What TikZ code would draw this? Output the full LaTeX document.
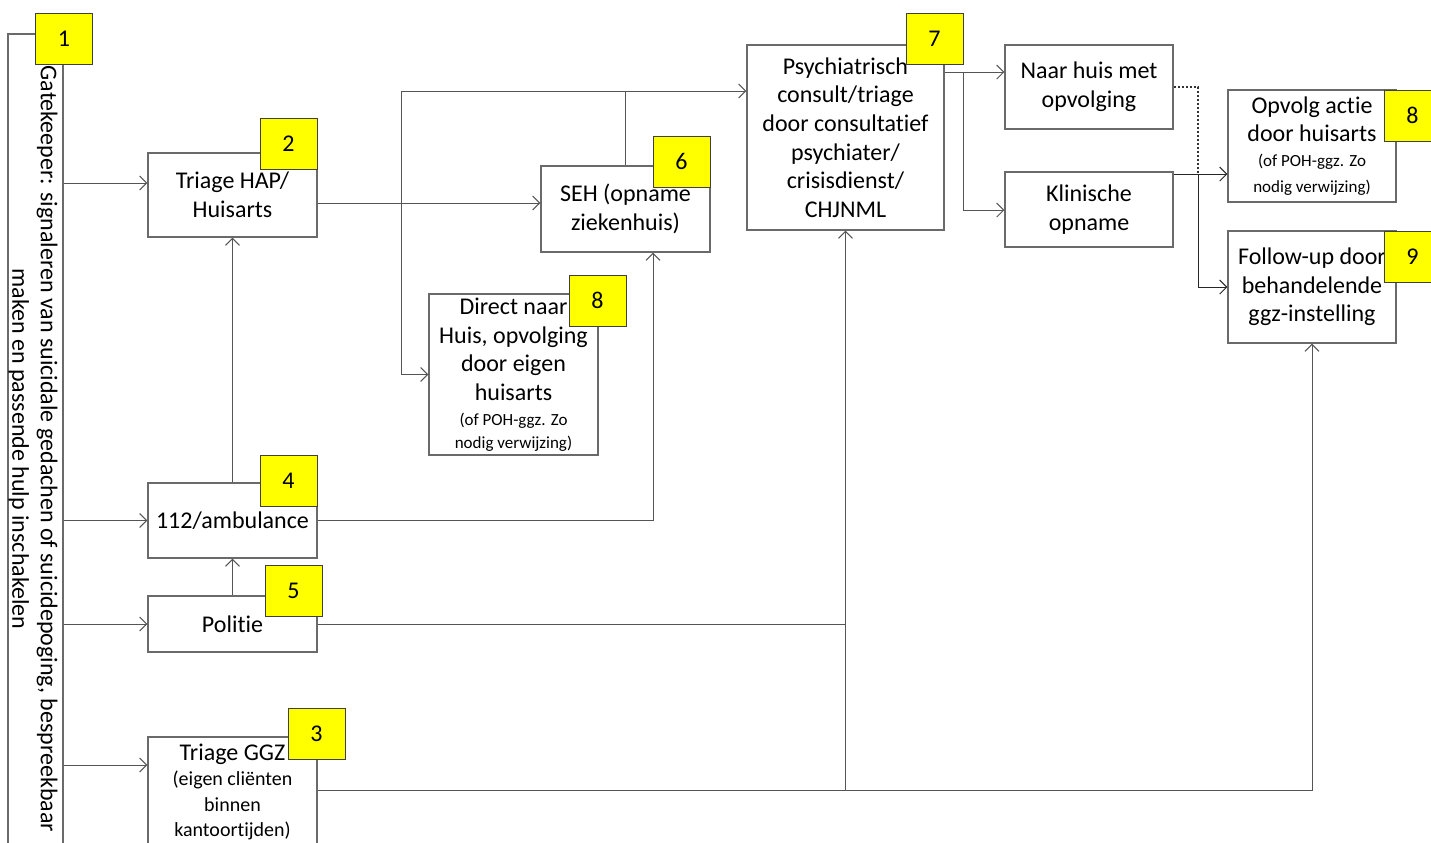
\documentclass[tikz,border=0pt]{standalone}
\usepackage{fontspec}
\setmainfont{Carlito}[Ligatures={NoCommon,NoDiscretionary,NoContextual}]
\usetikzlibrary{arrows.meta}
\definecolor{lc}{HTML}{555555}
\definecolor{bc}{HTML}{6A6A6A}
\definecolor{yl}{HTML}{FFFF00}
\newcommand{\mainfs}{\fontsize{12}{14.3}\selectfont}
\newcommand{\smallfs}{\fontsize{8.5}{11.5}\selectfont}
\newcommand{\midfs}{\fontsize{10}{12.5}\selectfont}
\tikzset{
  conn/.style={draw=lc, line width=0.5pt},
  arr/.style={conn, -{Straight Barb[length=3.5pt,width=7pt]}},
  box/.style={draw=bc, line width=0.6pt, fill=white, rectangle, inner sep=0pt, align=center, font=\mainfs},
  num/.style={draw=black!75, line width=0.5pt, fill=yl, rectangle, inner sep=0pt, minimum width=28.5pt, minimum height=25.5pt, font=\mainfs},
}
\begin{document}
\begin{tikzpicture}[x=0.5pt,y=-0.5pt]
\clip (0,0) rectangle (1431,842);
\useasboundingbox (0,0) rectangle (1431,842);

% boxes
\node[box, minimum width=27.5pt, minimum height=414pt] (gate) at (35.5,448) {};
\node[font=\mainfs, rotate=-90, align=center] (gatetext) at (33,449) {Gatekeeper: signaleren van suicidale gedachen of suicidepoging, bespreekbaar\\maken en passende hulp inschakelen};

\node[box, minimum width=84.5pt, minimum height=42pt] (hap) at (232.5,195) {Triage HAP/\\Huisarts};
\node[box, minimum width=84.5pt, minimum height=37.5pt] (amb) at (232.5,520.5) {112/ambulance};
\node[box, minimum width=84.5pt, minimum height=28pt] (pol) at (232.5,624) {Politie};
\node[box, minimum width=84.5pt, minimum height=55pt] (ggz) at (232.5,792) {Triage GGZ\\[-1.5pt]{\midfs (eigen cliënten}\\[-1.5pt]{\midfs binnen}\\[-1.5pt]{\midfs kantoortijden)}};
\node[box, minimum width=84.5pt, minimum height=43pt] (seh) at (625.5,209) {SEH (opname\\ziekenhuis)};
\node[box, minimum width=84.5pt, minimum height=80.5pt] (direct) at (513.5,374.5) {Direct naar\\Huis, opvolging\\door eigen\\huisarts\\[-1.8pt]{\smallfs (of POH-ggz. Zo}\\[-2.8pt]{\smallfs nodig verwijzing)}};
\node[box, minimum width=98.5pt, minimum height=92.5pt] (psy) at (845.5,137.5) {Psychiatrisch\\consult/triage\\door consultatief\\psychiater/\\crisisdienst/\\CHJNML};
\node[box, minimum width=84pt, minimum height=42pt] (naar) at (1089,87) {Naar huis met\\opvolging};
\node[box, minimum width=84pt, minimum height=37.5pt] (klin) at (1089,209.5) {Klinische\\opname};
\node[box, minimum width=84pt, minimum height=56pt] (opv) at (1312,146) {Opvolg actie\\door huisarts\\[-1.8pt]{\smallfs (of POH-ggz. Zo}\\[-1.5pt]{\smallfs nodig verwijzing)}};
\node[box, minimum width=84pt, minimum height=56pt] (fol) at (1312,287) {Follow-up door\\behandelende\\ggz-instelling};

% connectors
\draw[arr] (gate.east |- 0,183) -- (hap.west |- 0,183);
\draw[arr] (gate.east |- amb.west) -- (amb.west);
\draw[arr] (gate.east |- pol.west) -- (pol.west);
\draw[arr] (gate.east |- 0,765) -- (ggz.west |- 0,765);
\draw[arr] (amb.north) -- (hap.south);
\draw[arr] (pol.north) -- (amb.south);
\draw[arr] (hap.east |- 0,203) -- (seh.west |- 0,203);
\coordinate (j1) at (401,91);
\draw[arr] (j1) -- (j1 |- direct.west) -- (direct.west);
\draw[arr] (j1) -- (psy.west |- j1);
\draw[conn] (seh.north) -- (seh.north |- j1);
\draw[arr] (amb.east) -| ([xshift=13.75pt]seh.south);
\draw[conn] (pol.east) -- (psy.south |- pol.east);
\coordinate (j4) at (844,790);
\draw[arr] (ggz.east |- j4) -| (fol.south);
\draw[arr] (psy.south |- j4) -- (psy.south);
\coordinate (j2) at (963,72);
\draw[arr] (psy.east |- j2) -- (naar.west |- j2);
\draw[arr] (j2) |- (klin.west |- 0,210);
\coordinate (j3) at (1198,174);
\draw[draw=black!80, line width=0.7pt, dash pattern=on 1pt off 1pt] (naar.east) -| (j3);
\draw[arr, draw=black!85] (klin.east |- j3) -- (opv.west |- j3);
\draw[arr, draw=black!85] (j3) |- (fol.west);

% number labels
\node[num] (n1) at (64,38.5) {1};
\node[num] (n2) at (288.5,143.5) {2};
\node[num] (n4) at (288.5,480.5) {4};
\node[num] (n5) at (293.5,590.5) {5};
\node[num] (n3) at (316.5,733.5) {3};
\node[num] (n6) at (681.5,161.5) {6};
\node[num] (n8a) at (597.5,300.5) {8};
\node[num] (n7) at (934.5,39) {7};
\node[num] (n8b) at (1412.5,115.5) {8};
\node[num] (n9) at (1412.5,256.5) {9};
\end{tikzpicture}
\end{document}
